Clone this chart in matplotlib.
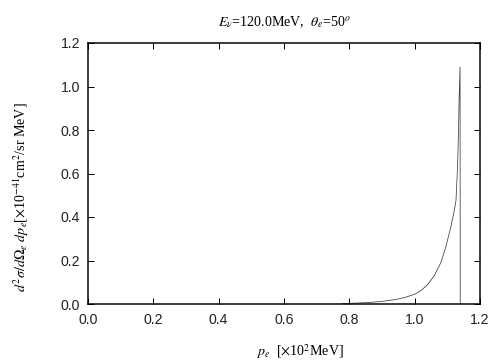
import numpy as np
from matplotlib import pyplot as plt

# curve (p_e in 10^2 MeV, cross section in 10^-41 cm^2/sr MeV)
p_e = [0.78, 0.82, 0.86, 0.90, 0.94, 0.97, 1.0, 1.02, 1.04, 1.06, 1.08,
       1.095, 1.11, 1.12, 1.1265, 1.131, 1.134, 1.136, 1.139, 1.1395, 1.14]
xsec = [0.002, 0.004, 0.007, 0.012, 0.020, 0.030, 0.045, 0.062, 0.090, 0.130, 0.190,
        0.260, 0.350, 0.420, 0.476, 0.62, 0.78, 0.94, 1.089, 0.0, 0.0]

plt.rcParams['mathtext.fontset'] = 'stix'
serif = 'Liberation Serif'
sans = 'Liberation Sans'

fig = plt.figure(figsize=(7, 5), dpi=72)
ax = fig.add_axes([88/504, 1-304/360, 392/504, 261/360])
ax.plot(p_e, xsec, color='#444444', lw=0.8)

ticks = np.arange(0, 1.21, 0.2)
ax.set_xlim(0, 1.2)
ax.set_ylim(0, 1.2)
ax.set_xticks(ticks)
ax.set_yticks(ticks)
ax.set_xticklabels([f'{v:.1f}' for v in ticks], fontfamily=sans, fontsize=14, color='#222222')
ax.set_yticklabels([f'{v:.1f}' for v in ticks], fontfamily=sans, fontsize=14, color='#222222')
ax.tick_params(direction='in', top=True, right=True, length=6, width=1)
ax.tick_params(axis='x', pad=9)
ax.tick_params(axis='y', pad=8)
for s in ax.spines.values():
    s.set_linewidth(1.5)

ax.set_title(r'$E_\nu$=120.0MeV,  $\theta_e$=50$^o$', fontfamily=serif, fontsize=14, pad=17)
ax.set_xlabel(r'$p_e$  [$\times$10$^2$MeV]', fontfamily=serif, fontsize=14)
ax.set_ylabel(r'$d^2\sigma/d\Omega_e\ dp_e$[$\times$10$^{-41}$cm$^2$/sr MeV]',
              fontfamily=serif, fontsize=14)
ax.xaxis.set_label_coords(0.54, -0.146)
ax.yaxis.set_label_coords(-0.145, 0.41)

plt.savefig('out.png', dpi=72)
